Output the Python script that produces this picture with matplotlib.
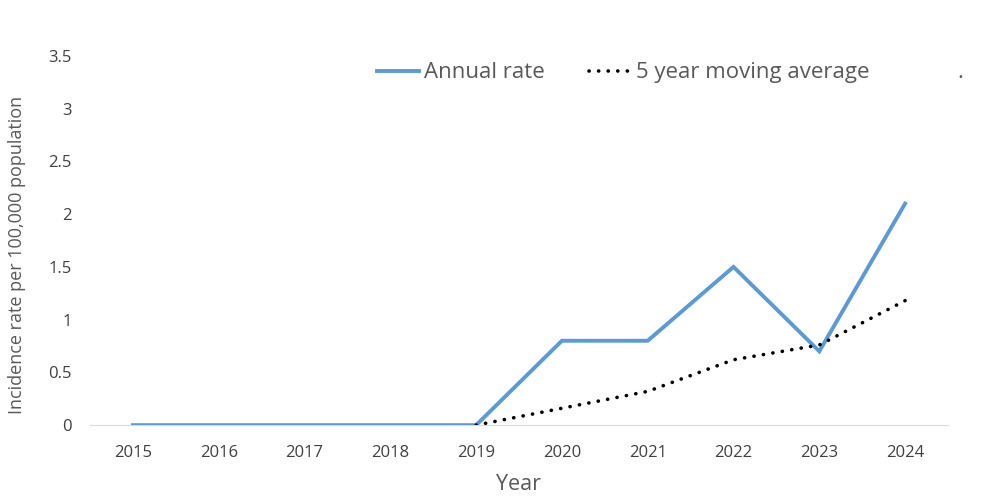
import matplotlib.pyplot as plt

years = [2015, 2016, 2017, 2018, 2019, 2020, 2021, 2022, 2023, 2024]
annual_rate = [0, 0, 0, 0, 0, 0.8, 0.8, 1.5, 0.7, 2.1]
ma_years = [2019, 2020, 2021, 2022, 2023, 2024]
moving_avg = [0, 0.16, 0.32, 0.62, 0.76, 1.18]
yticks = [0, 0.5, 1, 1.5, 2, 2.5, 3, 3.5]
ytick_labels = ['0', '0.5', '1', '1.5', '2', '2.5', '3', '3.5']

plt.rcParams['font.family'] = ['Open Sans', 'DejaVu Sans']

fig = plt.figure(figsize=(10, 4.99), dpi=100)
ax = fig.add_axes([0.09, 0.148, 0.858, 0.74])

ax.plot(years, annual_rate, color='#5b9bd5', linewidth=2.8,
        solid_joinstyle='miter', label='Annual rate')
ax.plot(ma_years, moving_avg, color='black', linewidth=2.6,
        linestyle=(0, (0.05, 2.6)), dash_capstyle='round',
        label='5 year moving average')

ax.set_xlim(2014.5, 2024.5)
ax.set_ylim(0, 3.5)
ax.set_xticks(years)
ax.set_xticklabels([str(y) for y in years])
ax.set_yticks(yticks)
ax.set_yticklabels(ytick_labels)
ax.tick_params(axis='x', length=0, labelsize=12, colors='#404040', pad=14)
ax.tick_params(axis='y', length=0, labelsize=12, colors='#404040', pad=13)
for s in ['top', 'right', 'left']:
    ax.spines[s].set_visible(False)
ax.spines['bottom'].set_color('#d9d9d9')
ax.spines['bottom'].set_zorder(0)

ax.set_xlabel('Year', fontsize=15.5, color='#595959', labelpad=10)
ax.set_ylabel('Incidence rate per 100,000 population', fontsize=13,
              color='#595959', labelpad=14)
ax.yaxis.set_label_coords(-0.075, 0.46)

leg = fig.legend(loc='center', bbox_to_anchor=(0.623, 0.854), ncol=2,
                 frameon=False, fontsize=16, handlelength=1.9,
                 columnspacing=2.0, handletextpad=0.2)
for t in leg.get_texts():
    t.set_color('#595959')
fig.text(0.96, 0.854, '.', fontsize=16, color='#595959',
         ha='center', va='center')

plt.savefig('out.png', dpi=100)
